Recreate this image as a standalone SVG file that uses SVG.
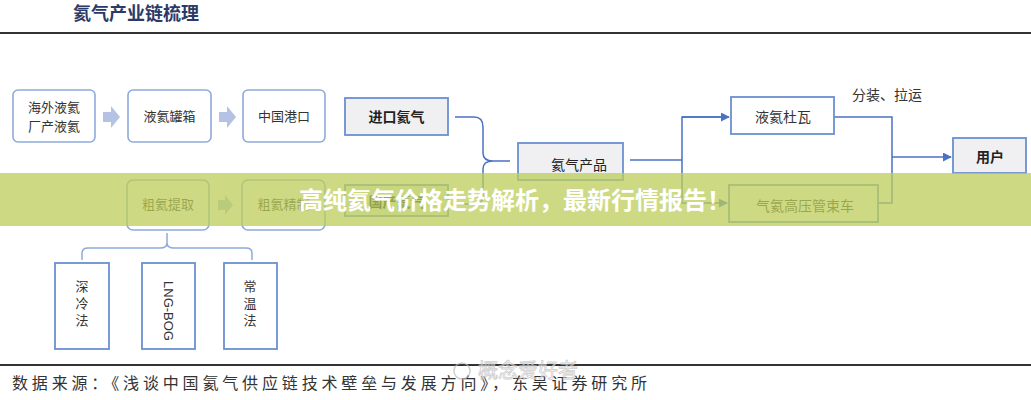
<svg xmlns="http://www.w3.org/2000/svg" width="1031" height="400" viewBox="0 0 1031 400">
<defs>
<style>
text{font-family:"Noto Sans CJK SC","Liberation Sans",sans-serif;fill:#333}
.t{font-size:13px;text-anchor:middle}
.rb{fill:#fff;stroke:#8eaadb;stroke-width:1.6}
.sb{fill:#fff;stroke:#6b8fd0;stroke-width:1.8}
.gb{fill:#f0f0f3;stroke:#6b8fd0;stroke-width:1.8}
.con{fill:none;stroke:#4a72c2;stroke-width:1.5}
.br{fill:none;stroke:#8eaadb;stroke-width:1.5}
.ba{fill:#b4c3e3}
</style>
<marker id="ah" viewBox="0 0 10 10" refX="9" refY="5" markerWidth="9" markerHeight="9" markerUnits="userSpaceOnUse" orient="auto"><path d="M0,0 L10,5 L0,10 z" fill="#4a72c2"/></marker>
</defs>
<rect width="1031" height="400" fill="#fff"/>
<text x="73" y="20" style="font-size:18px;font-weight:bold;fill:#2b3a67">氦气产业链梳理</text>
<line x1="0" y1="33" x2="1031" y2="33" stroke="#333" stroke-width="2"/>

<g id="connectors">
<path class="ba" d="M103,112 h8 v-6 l9,11 l-9,11 v-6 h-8 z"/>
<path class="ba" d="M219,112 h8 v-6 l9,11 l-9,11 v-6 h-8 z"/>
<path class="ba" d="M218,200 h7 v-5 l8,10 l-8,10 v-5 h-7 z"/>
<path class="con" d="M455,117 H474 Q483,117 483,127 V153 Q483,161 493,161 H510 M493,161 Q483,161 483,169 V196 Q483,204 474,204 H455"/>
<path class="con" d="M630,160 H682"/>
<path class="con" d="M725,117 H682 V203 H727" marker-end="url(#ah)"/>
<path class="con" d="M682,117 H729" marker-end="url(#ah)"/>
<path class="con" d="M834,117 H892 V203 H878"/>
<path class="con" d="M892,157 H951" marker-end="url(#ah)"/>
<path class="br" d="M82,260 V253 Q82,248 88,248 H160 Q167,248 167,243 V233 M167,243 Q167,248 174,248 H246 Q252,248 252,253 V260"/>
</g>

<g id="n-overseas"><rect class="rb" x="13" y="90" width="82" height="52" rx="5"/><text class="t" x="54" y="112">海外液氦</text><text class="t" x="54" y="131">厂产液氦</text></g>
<g id="n-tank"><rect class="rb" x="128" y="90" width="83" height="52" rx="5"/><text class="t" x="169.5" y="121">液氦罐箱</text></g>
<g id="n-port"><rect class="rb" x="243" y="90" width="82" height="52" rx="5"/><text class="t" x="284" y="121">中国港口</text></g>
<g id="n-import"><rect class="gb" x="345" y="98" width="103" height="37"/><text class="t" x="396.5" y="122" style="font-size:14px;font-weight:bold;fill:#222">进口氦气</text></g>
<g id="n-domestic"><rect class="gb" x="345" y="185" width="103" height="31"/><text class="t" x="396.5" y="207" style="font-size:14px;font-weight:bold;fill:#222">国产氦气</text></g>
<g id="n-product"><rect class="gb" x="518" y="143" width="105" height="37"/><text class="t" x="579" y="170" style="font-size:14px;fill:#222">氦气产品</text></g>
<g id="n-dewar"><rect class="sb" x="731" y="97" width="103" height="37"/><text class="t" x="783" y="122" style="font-size:14px">液氦杜瓦</text></g>
<g id="n-tube"><rect class="sb" x="729" y="185" width="149" height="37"/><text class="t" x="805" y="211" style="font-size:14px">气氦高压管束车</text></g>
<g id="n-user"><rect class="gb" x="953" y="138" width="73" height="35"/><text class="t" x="990" y="162" style="font-size:14px;font-weight:bold;fill:#222">用户</text></g>
<text x="852" y="100" style="font-size:14px">分装、拉运</text>
<g id="n-crude"><rect class="rb" x="127" y="180" width="82" height="50" rx="6"/><text class="t" x="168" y="209">粗氦提取</text></g>
<g id="n-refine"><rect class="rb" x="242" y="180" width="83" height="50" rx="6"/><text class="t" x="283.5" y="209">粗氦精制</text></g>
<g id="n-cryo"><rect class="sb" x="55" y="263" width="54" height="86"/><text class="t" x="82" y="291">深</text><text class="t" x="82" y="308">冷</text><text class="t" x="82" y="325">法</text></g>
<g id="n-lng"><rect class="sb" x="142" y="263" width="53" height="86"/><text class="t" transform="translate(163.5,311) rotate(90)" style="font-family:'Liberation Sans',sans-serif;font-size:13px">LNG-BOG</text></g>
<g id="n-ambient"><rect class="sb" x="224" y="263" width="53" height="86"/><text class="t" x="250" y="291">常</text><text class="t" x="250" y="308">温</text><text class="t" x="250" y="325">法</text></g>

<line x1="0" y1="365" x2="1031" y2="365" stroke="#333" stroke-width="2"/>
<text x="12" y="389" textLength="635" lengthAdjust="spacing" style="font-size:16px">数据来源：《浅谈中国氦气供应链技术壁垒与发展方向》，东吴证券研究所</text>
<text x="478" y="378" style="font-size:20px;fill:#fff;stroke:#bbb;stroke-width:0.8;opacity:0.7">概念爱好者</text>
<circle cx="462" cy="371" r="8" fill="none" stroke="#bbb" stroke-width="1.5" opacity="0.7"/>

<rect x="0" y="173" width="1031" height="53" fill="#bccd5a" opacity="0.75"/>
<text x="299" y="209" style="font-size:24px;font-weight:bold;fill:#fff">高纯氦气价格走势解析，最新行情报告！</text>
</svg>
